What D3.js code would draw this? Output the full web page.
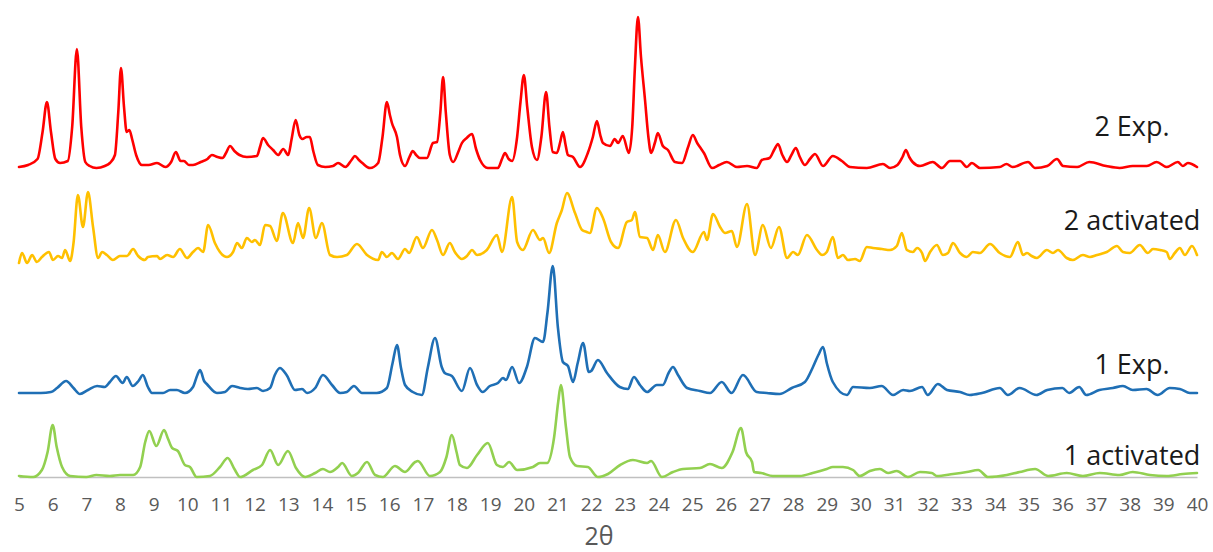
<!DOCTYPE html>
<html>
<head>
<meta charset="utf-8">
<script src="https://cdn.jsdelivr.net/npm/d3@7"></script>
<style>
  html, body { margin: 0; padding: 0; background: #ffffff; }
  svg { display: block; font-family: "Open Sans", "Noto Sans", sans-serif; }
</style>
</head>
<body>
<svg id="chart" width="1213" height="552"></svg>
<script>
// PXRD patterns: [2θ, intensity] pairs, each trace stacked by a vertical offset
const tickLabels = d3.range(5, 41);

const exp2 = [
  [5.00,0],[5.27,2],[5.55,8],[5.70,35],[5.83,65],[5.95,35],[6.08,8],[6.22,4],[6.45,6],[6.58,40],
  [6.72,118],[6.85,40],[6.97,5],[7.10,1],[7.30,-1],[7.55,1],[7.70,4],[7.85,12],[7.95,55],[8.03,99],
  [8.12,60],[8.20,35],[8.28,37],[8.36,28],[8.48,12],[8.65,2],[8.85,2],[9.10,4],[9.35,0],[9.52,5],
  [9.66,15],[9.80,6],[9.90,6],[10.05,2],[10.17,2],[10.40,5],[10.60,8],[10.73,12],[10.90,10],[11.05,9],
  [11.15,14],[11.27,21],[11.40,16],[11.55,12],[11.77,10],[12.07,11],[12.16,20],[12.25,29],[12.40,22],[12.55,17],
  [12.70,12],[12.85,18],[13.00,12],[13.10,28],[13.22,47],[13.33,32],[13.42,28],[13.55,30],[13.64,30],[13.75,15],
  [13.88,2],[14.10,0],[14.33,1],[14.48,4],[14.70,0],[14.88,7],[14.98,11],[15.10,7],[15.20,4],[15.43,-1],
  [15.67,4],[15.80,30],[15.93,65],[16.02,52],[16.08,44],[16.23,30],[16.32,12],[16.47,1],[16.60,10],[16.70,16],
  [16.80,12],[16.91,9],[17.12,9],[17.30,24],[17.42,25],[17.52,55],[17.60,90],[17.68,55],[17.80,12],[17.90,5],
  [18.05,15],[18.16,24],[18.30,29],[18.46,33],[18.58,18],[18.70,7],[18.93,-1],[19.23,-1],[19.35,8],[19.44,14],
  [19.55,8],[19.65,6],[19.80,30],[19.90,65],[20.00,92],[20.10,60],[20.24,20],[20.39,7],[20.52,30],[20.66,75],
  [20.76,40],[20.86,15],[20.98,14],[21.08,25],[21.16,35],[21.24,22],[21.31,12],[21.46,10],[21.67,0],[21.90,14],
  [22.05,30],[22.17,46],[22.27,32],[22.35,24],[22.56,21],[22.70,28],[22.80,24],[22.94,31],[23.12,14],[23.22,40],
  [23.30,100],[23.39,150],[23.48,110],[23.60,67],[23.70,30],[23.78,14],[23.90,25],[23.98,34],[24.13,21],[24.28,17],
  [24.49,5],[24.70,4],[24.88,20],[25.02,32],[25.15,24],[25.23,20],[25.35,14],[25.59,-1],[25.80,2],[26.03,5],
  [26.33,0],[26.63,1],[26.92,-1],[27.07,7],[27.30,9],[27.45,18],[27.55,23],[27.68,12],[27.82,5],[27.95,12],
  [28.08,19],[28.20,10],[28.35,2],[28.50,8],[28.65,13],[28.89,1],[29.18,11],[29.45,6],[29.69,0],[30.19,-1],
  [30.67,3],[30.88,-1],[31.10,2],[31.25,10],[31.35,17],[31.45,10],[31.55,5],[31.77,1],[32.15,5],[32.42,-1],
  [32.66,6],[32.96,6],[33.16,0],[33.31,4],[33.55,-1],[34.14,0],[34.34,3],[34.52,0],[34.98,5],[35.19,-1],
  [35.55,1],[35.84,8],[36.02,1],[36.44,0],[36.80,5],[37.30,1],[37.70,-1],[38.09,1],[38.51,1],[38.80,5],
  [39.10,0],[39.43,5],[39.58,1],[39.73,4],[40.00,0]
];

const activated2 = [
  [5.00,0],[5.09,10],[5.24,0],[5.39,8],[5.53,1],[5.68,6],[5.89,11],[6.01,3],[6.16,7],[6.28,5],
  [6.37,13],[6.52,2],[6.62,20],[6.75,68],[6.90,36],[7.05,71],[7.20,36],[7.35,5],[7.47,11],[7.61,8],
  [7.79,3],[8.00,7],[8.21,7],[8.39,14],[8.54,7],[8.74,3],[8.83,6],[9.10,7],[9.19,4],[9.40,8],
  [9.58,6],[9.78,14],[9.99,5],[10.17,11],[10.32,15],[10.47,11],[10.62,38],[10.82,20],[10.97,11],[11.18,6],
  [11.36,11],[11.48,20],[11.62,15],[11.77,25],[11.92,21],[12.01,23],[12.16,18],[12.31,38],[12.46,37],[12.66,22],
  [12.84,50],[13.14,20],[13.29,40],[13.44,25],[13.62,55],[13.82,25],[14.00,40],[14.24,8],[14.45,6],[14.74,8],
  [15.04,19],[15.34,8],[15.67,3],[15.78,11],[15.93,6],[16.08,10],[16.26,4],[16.47,14],[16.59,10],[16.82,26],
  [17.00,15],[17.27,33],[17.42,23],[17.60,8],[17.80,20],[17.95,11],[18.16,4],[18.31,7],[18.46,13],[18.61,8],
  [18.90,13],[19.20,28],[19.35,11],[19.65,66],[19.80,21],[19.97,13],[20.27,33],[20.48,23],[20.57,25],[20.75,10],
  [20.98,40],[21.13,53],[21.28,70],[21.52,50],[21.73,33],[21.87,31],[21.96,30],[22.17,55],[22.35,45],[22.59,21],
  [22.80,15],[23.06,41],[23.21,43],[23.30,51],[23.45,26],[23.66,25],[23.84,13],[23.98,28],[24.19,11],[24.52,43],
  [24.73,25],[25.02,11],[25.35,31],[25.44,23],[25.62,49],[25.83,36],[25.98,30],[26.18,32],[26.33,16],[26.63,59],
  [26.87,8],[27.10,38],[27.34,15],[27.58,36],[27.82,5],[28.00,11],[28.14,8],[28.41,28],[28.71,13],[28.86,8],
  [29.00,11],[29.18,26],[29.33,5],[29.48,8],[29.63,3],[29.84,4],[29.98,2],[30.19,16],[30.37,15],[30.64,14],
  [30.88,13],[31.08,17],[31.23,30],[31.38,13],[31.56,11],[31.68,15],[31.83,10],[31.92,2],[32.07,11],[32.27,18],
  [32.45,8],[32.60,10],[32.75,20],[32.96,10],[33.16,6],[33.34,11],[33.55,10],[33.85,19],[34.14,10],[34.44,6],
  [34.68,21],[34.83,8],[34.95,10],[35.09,7],[35.24,5],[35.54,13],[35.72,10],[35.87,13],[36.13,5],[36.31,3],
  [36.61,8],[36.82,6],[37.03,8],[37.32,11],[37.62,17],[37.80,11],[38.00,10],[38.30,18],[38.54,10],[38.69,14],
  [38.90,13],[39.10,11],[39.19,4],[39.34,10],[39.49,15],[39.64,8],[39.85,17],[40.00,8]
];

const exp1 = [
  [5.00,0],[5.35,0],[5.65,0],[5.95,1],[6.13,5],[6.40,12],[6.62,5],[6.81,-1],[7.05,3],[7.32,7],
  [7.55,6],[7.70,11],[7.88,17],[8.08,10],[8.20,16],[8.38,7],[8.55,12],[8.68,18],[8.83,6],[8.95,0],
  [9.28,0],[9.49,3],[9.69,3],[9.93,0],[10.17,6],[10.30,18],[10.38,23],[10.50,12],[10.58,9],[10.88,0],
  [11.12,1],[11.33,7],[11.57,5],[11.80,4],[12.07,5],[12.25,2],[12.46,5],[12.60,18],[12.75,25],[12.95,18],
  [13.20,3],[13.41,4],[13.56,0],[13.80,5],[14.03,18],[14.30,8],[14.54,0],[14.74,1],[14.95,7],[15.19,0],
  [15.63,0],[15.93,5],[16.10,30],[16.23,48],[16.35,25],[16.47,8],[16.70,1],[16.97,-2],[17.15,26],[17.36,55],
  [17.56,26],[17.65,20],[17.86,17],[18.16,2],[18.40,25],[18.61,8],[18.78,1],[18.99,7],[19.23,10],[19.38,15],
  [19.47,13],[19.65,26],[19.86,10],[20.09,26],[20.33,55],[20.57,51],[20.70,80],[20.86,127],[21.01,66],[21.16,31],
  [21.31,27],[21.46,11],[21.60,30],[21.76,50],[21.93,21],[22.00,22],[22.20,33],[22.47,20],[22.85,6],[23.09,4],
  [23.27,16],[23.45,8],[23.66,1],[23.95,8],[24.13,8],[24.30,20],[24.43,26],[24.58,18],[24.85,5],[25.23,2],
  [25.53,0],[25.88,11],[26.17,0],[26.51,18],[26.92,1],[27.22,0],[27.60,-1],[27.96,5],[28.35,11],[28.59,26],
  [28.75,38],[28.89,46],[29.00,30],[29.18,11],[29.60,-2],[29.78,6],[30.28,5],[30.63,7],[30.97,-2],[31.27,3],
  [31.47,2],[31.83,6],[32.00,-2],[32.30,9],[32.57,3],[32.96,1],[33.25,-2],[33.61,0],[34.14,5],[34.38,-2],
  [34.73,5],[35.23,-2],[35.55,3],[36.00,5],[36.20,0],[36.50,6],[36.71,-2],[37.10,3],[37.50,5],[37.80,7],
  [38.09,3],[38.50,4],[38.83,-2],[39.19,5],[39.49,4],[39.79,0],[40.00,0]
];

const activated1 = [
  [5.00,1],[5.42,0],[5.68,7],[5.85,25],[6.00,52],[6.12,30],[6.28,10],[6.52,1],[7.00,0],[7.30,2],
  [7.70,1],[8.00,2],[8.39,2],[8.60,10],[8.75,35],[8.87,46],[9.08,31],[9.31,47],[9.43,38],[9.55,29],
  [9.72,26],[9.93,12],[10.08,10],[10.28,0],[10.67,1],[10.97,10],[11.20,19],[11.40,8],[11.57,0],[11.95,7],
  [12.22,12],[12.46,27],[12.70,12],[12.99,26],[13.23,9],[13.50,0],[13.80,4],[14.03,8],[14.24,5],[14.48,10],
  [14.60,14],[14.89,1],[15.07,4],[15.34,15],[15.58,2],[15.81,0],[16.17,11],[16.47,5],[16.77,15],[16.85,16],
  [17.21,1],[17.51,5],[17.70,20],[17.86,42],[18.00,25],[18.10,12],[18.31,9],[18.61,22],[18.93,34],[19.20,12],
  [19.38,10],[19.56,15],[19.80,7],[20.27,10],[20.48,14],[20.69,14],[20.90,40],[21.02,75],[21.10,92],[21.25,50],
  [21.37,20],[21.58,11],[21.90,10],[22.20,0],[22.50,3],[22.86,12],[23.24,17],[23.66,14],[23.78,16],[24.10,0],
  [24.43,5],[24.73,8],[25.23,9],[25.53,13],[25.88,9],[26.20,25],[26.45,49],[26.60,25],[26.78,15],[26.84,5],
  [27.05,4],[27.40,1],[28.20,1],[28.58,4],[29.00,8],[29.18,10],[29.48,10],[29.78,7],[29.98,1],[30.28,6],
  [30.58,8],[30.82,4],[31.08,6],[31.41,0],[31.77,5],[32.12,4],[32.27,1],[32.75,3],[33.16,5],[33.50,7],
  [33.79,0],[34.35,2],[34.73,5],[35.19,8],[35.58,1],[36.13,4],[36.61,1],[37.11,4],[37.70,2],[38.09,5],
  [38.60,2],[39.10,1],[39.58,3],[40.00,4]
];

const seriesNames = ["2 Exp.", "2 activated", "1 Exp.", "1 activated"];
const seriesData = [exp2, activated2, exp1, activated1];
const seriesOffsets = [310, 214, 84, 0];
const seriesColors = ["#ff0000", "#ffc000", "#1f6fb5", "#92d050"];
const labelBaselines = [136, 230, 374, 465];

const svg = d3.select("#chart");

const x = d3.scaleLinear().domain([5, 40]).range([19, 1197]);
const y = d3.scaleLinear().domain([0, 460]).range([477, 17]);

// baseline axis with 2θ tick labels
const axis = d3.axisBottom(x)
  .tickValues(tickLabels)
  .tickFormat(d3.format("d"))
  .tickSize(0)
  .tickPadding(21);

const gAxis = svg.append("g")
  .attr("transform", `translate(0,${y(0)})`)
  .call(axis);
gAxis.select(".domain").attr("stroke", "#c0c0c0").attr("stroke-width", 1.5);
gAxis.selectAll("text")
  .attr("fill", "#595959")
  .style("font-size", "19px")
  .style("font-family", "'Open Sans', sans-serif");

svg.append("text")
  .attr("x", 599)
  .attr("y", 545)
  .attr("text-anchor", "middle")
  .attr("fill", "#595959")
  .style("font-size", "25px")
  .text("2θ");

const line = d3.line()
  .x(d => x(d[0]))
  .y(d => y(d[1]))
  .curve(d3.curveMonotoneX);

seriesData.forEach((data, i) => {
  const off = seriesOffsets[i];
  svg.append("path")
    .datum(data.map(d => [d[0], d[1] + off]))
    .attr("fill", "none")
    .attr("stroke", seriesColors[i])
    .attr("stroke-width", 2.6)
    .attr("stroke-linejoin", "round")
    .attr("stroke-linecap", "round")
    .attr("d", line);

  svg.append("text")
    .attr("x", 1132)
    .attr("y", labelBaselines[i])
    .attr("text-anchor", "middle")
    .attr("fill", "#1a1a1a")
    .style("font-size", "27px")
    .text(seriesNames[i]);
});
</script>
</body>
</html>
